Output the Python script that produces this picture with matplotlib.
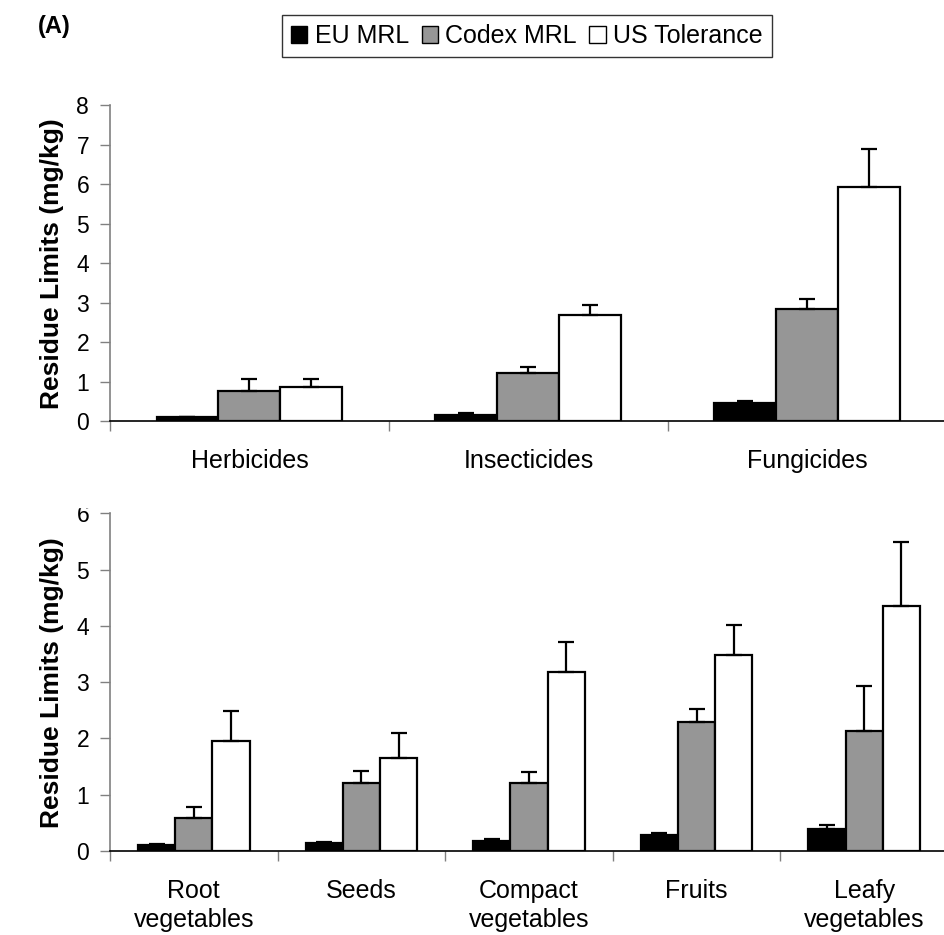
import numpy as np
import matplotlib
matplotlib.use('Agg')
import matplotlib.pyplot as plt
from matplotlib.patches import Rectangle, Patch
from matplotlib.ticker import FixedLocator

plt.rcParams['font.family'] = ['Liberation Sans', 'DejaVu Sans']

# Panel (A) top: by pesticide class
top_categories = ['Herbicides', 'Insecticides', 'Fungicides']
top_eu = [0.10, 0.17, 0.46]
top_eu_err = [0.01, 0.04, 0.05]
top_codex = [0.76, 1.21, 2.84]
top_codex_err = [0.30, 0.16, 0.25]
top_us = [0.86, 2.68, 5.92]
top_us_err = [0.20, 0.25, 0.97]

# bottom: by crop group
bot_categories = ['Root\nvegetables', 'Seeds', 'Compact\nvegetables', 'Fruits', 'Leafy\nvegetables']
bot_eu = [0.11, 0.15, 0.18, 0.28, 0.39]
bot_eu_err = [0.01, 0.01, 0.03, 0.04, 0.07]
bot_codex = [0.59, 1.20, 1.20, 2.30, 2.13]
bot_codex_err = [0.19, 0.22, 0.21, 0.22, 0.81]
bot_us = [1.95, 1.66, 3.18, 3.48, 4.36]
bot_us_err = [0.53, 0.44, 0.54, 0.53, 1.13]

series_names = ['EU MRL', 'Codex MRL', 'US Tolerance']
series_colors = ['#000000', '#969696', '#ffffff']

W, H = 945, 935
fig = plt.figure(figsize=(W / 100, H / 100), dpi=100)


def px_axes(x0, x1, ytop, ybot):
    return fig.add_axes([x0 / W, 1 - ybot / H, (x1 - x0) / W, (ybot - ytop) / H])


def draw_panel(ax, cats, vals, errs, ymax):
    n = len(cats)
    x = np.arange(n)
    w = 1 / 4.5
    for i, (v, e, c) in enumerate(zip(vals, errs, series_colors)):
        ax.bar(x + (i - 1) * w, v, w, color=c, edgecolor='black', linewidth=1.6, zorder=2)
        ax.errorbar(x + (i - 1) * w, v, yerr=[np.zeros(n), e], fmt='none',
                    ecolor='black', elinewidth=1.6, capsize=5.5, capthick=1.6, zorder=3)
    ax.set_xlim(-0.5, n - 0.5)
    ax.set_ylim(0, ymax)
    ax.set_yticks(range(0, ymax + 1))
    ax.set_xticks(x)
    ax.set_xticklabels(cats, fontsize=18, linespacing=1.25)
    ax.xaxis.set_minor_locator(FixedLocator(np.arange(n + 1) - 0.5))
    ax.tick_params(axis='x', which='major', length=0, pad=20)
    ax.tick_params(axis='x', which='minor', length=7, width=1, color='#808080', direction='out')
    ax.tick_params(axis='y', length=7, width=1, color='#808080', labelsize=16.5, pad=8)
    for s in ['top', 'right']:
        ax.spines[s].set_visible(False)
    ax.spines['left'].set_color('#808080')
    ax.spines['left'].set_linewidth(1.2)
    ax.spines['bottom'].set_color('black')
    ax.spines['bottom'].set_linewidth(1.2)
    ax.set_ylabel('Residue Limits (mg/kg)', fontsize=19, fontweight='bold')
    ax.yaxis.set_label_coords(-0.055, 0.5)
    ax.patch.set_alpha(0)


ax1 = px_axes(110, 947, 105, 421.3)
draw_panel(ax1, top_categories, [top_eu, top_codex, top_us],
           [top_eu_err, top_codex_err, top_us_err], 8)

ax2 = px_axes(110, 948, 513.3, 851)
draw_panel(ax2, bot_categories, [bot_eu, bot_codex, bot_us],
           [bot_eu_err, bot_codex_err, bot_us_err], 6)

# top of the "6" is clipped in the original figure
fig.patches.append(Rectangle((60 / W, 1 - 507 / H), 45 / W, 20 / H,
                             transform=fig.transFigure, color='white', zorder=10))

fig.text(38 / W, 1 - 26 / H, '(A)', fontsize=17, fontweight='bold', va='center', ha='left')

handles = [Patch(facecolor=c, edgecolor='black', linewidth=1) for c in series_colors]
leg = fig.legend(handles, series_names, loc='center', bbox_to_anchor=(527 / W, 1 - 36 / H),
                 ncol=3, fontsize=18, frameon=True, fancybox=False, handlelength=0.65,
                 handleheight=0.65, handletextpad=0.3, columnspacing=0.5, borderpad=0.35)
leg.get_frame().set_edgecolor('black')
leg.get_frame().set_linewidth(1)

fig.savefig('out.png', dpi=100)
